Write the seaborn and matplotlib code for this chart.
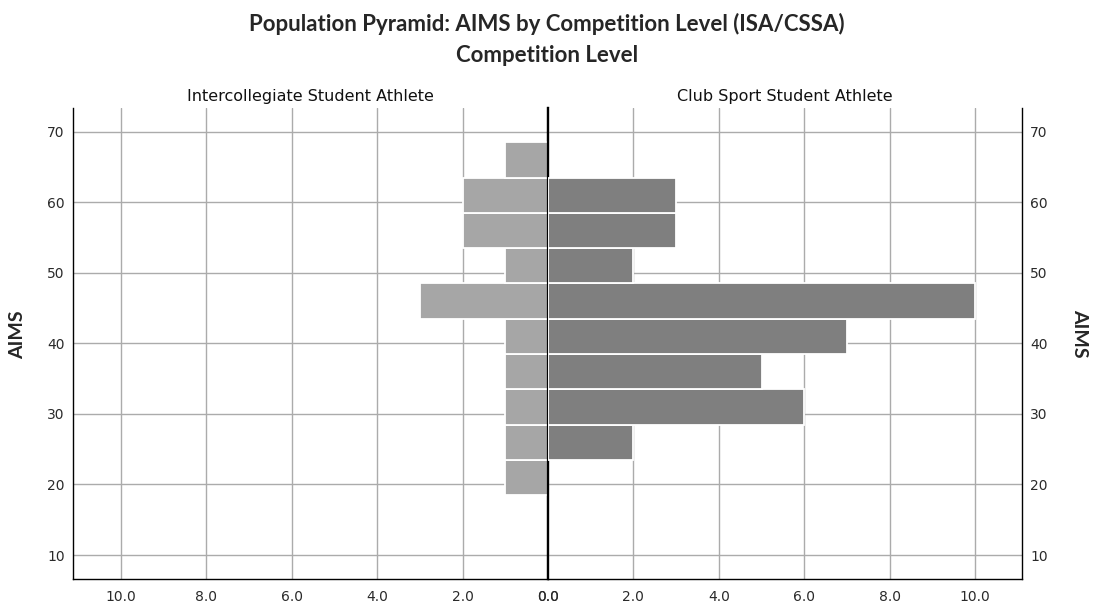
import numpy as np
import pandas as pd
import matplotlib
matplotlib.use("Agg")
import matplotlib.pyplot as plt
import seaborn as sns

# ==========================================
# Data: AIMS bins (bin centres) and counts per competition level
# ==========================================
aims_bins = [21, 26, 31, 36, 41, 46, 51, 56, 61, 66]
isa_counts = [1, 1, 1, 1, 1, 3, 1, 2, 2, 1]    # Intercollegiate Student Athlete
cssa_counts = [0, 2, 6, 5, 7, 10, 2, 3, 3, 0]  # Club Sport Student Athlete

panel_titles = ["Intercollegiate Student Athlete", "Club Sport Student Athlete"]
x_ticks = [0, 2, 4, 6, 8, 10]
y_ticks = [10, 20, 30, 40, 50, 60, 70]

sns.set_theme(style="white")
plt.rcParams['font.family'] = ['Lato', 'DejaVu Sans']

fig = plt.figure(figsize=(10.94, 6.08), dpi=100)
ax_l = fig.add_axes([0.0667, 0.0477, 0.4342, 0.775])
ax_r = fig.add_axes([0.5009, 0.0477, 0.4333, 0.775])

grid_col = "#ababab"
tick_font = dict(family="DejaVu Sans", size=10, color="#2a2a2a")

for ax, counts, col, title in [(ax_l, isa_counts, "#a6a6a6", panel_titles[0]),
                               (ax_r, cssa_counts, "#7f7f7f", panel_titles[1])]:
    df = pd.DataFrame({"AIMS": aims_bins, "Count": counts})
    df = df[df["Count"] > 0]
    # width is relative to the bin spacing (5), so 1.0 gives full-width bins
    sns.barplot(data=df, x="Count", y="AIMS", orient="y", native_scale=True,
                width=1.0, color=col, saturation=1, edgecolor="white",
                linewidth=1.3, ax=ax, zorder=3)
    ax.set_ylim(6.6, 73.4)
    ax.set_xticks(x_ticks)
    ax.set_yticks(y_ticks)
    ax.set_xticklabels([f"{t:.1f}" for t in x_ticks], fontdict=tick_font)
    ax.set_yticklabels([str(t) for t in y_ticks], fontdict=tick_font)
    ax.grid(True, color=grid_col, linewidth=1.0, zorder=0)
    ax.set_axisbelow(True)
    ax.tick_params(axis="x", length=0, pad=8)
    ax.tick_params(axis="y", length=0, pad=6)
    ax.set_xlabel("")
    ax.set_ylabel("")
    ax.spines["top"].set_visible(False)
    for s in ["left", "right", "bottom"]:
        ax.spines[s].set_color("black")
        ax.spines[s].set_linewidth(1.0)
    ax.set_title(title, fontsize=11.5, pad=5, color="#111111",
                 family="DejaVu Sans")

ax_l.set_xlim(11.12, 0)
ax_r.set_xlim(0, 11.1)
ax_l.spines["right"].set_linewidth(1.6)
ax_r.spines["left"].set_linewidth(1.6)
ax_r.yaxis.tick_right()
ax_r.tick_params(axis="y", labelleft=False, labelright=True, length=0, pad=6)

fig.text(0.016, 0.449, "AIMS", rotation=90, ha="center", va="center",
         fontsize=14, fontweight="bold")
fig.text(0.987, 0.452, "AIMS", rotation=-90, ha="center", va="center",
         fontsize=14, fontweight="bold")

fig.text(0.5, 0.960, "Population Pyramid: AIMS by Competition Level (ISA/CSSA)",
         ha="center", va="center", fontsize=16, fontweight="bold")
fig.text(0.5, 0.909, "Competition Level", ha="center", va="center",
         fontsize=16, fontweight="bold")

fig.savefig("out.png", dpi=100)
